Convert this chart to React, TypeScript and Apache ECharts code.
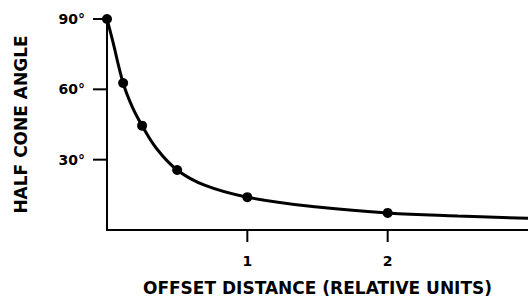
import React, { useEffect, useRef } from "react";
import * as echarts from "echarts";

const curveX = [0, 0.04, 0.115, 0.18, 0.25, 0.35, 0.5, 0.7, 1, 1.5, 2, 2.5, 3];
const curveY = [90, 80.8, 62.7, 52.5, 44.5, 35.0, 25.6, 19.0, 14, 9.8, 7.3, 6.0, 5.0];
const pointX = [0, 0.115, 0.25, 0.5, 1, 2];
const pointY = [90, 62.7, 44.5, 25.6, 14, 7.3];
const xTicks = [1, 2];
const yTicks = [30, 60, 90];
const xTitle = "OFFSET DISTANCE (RELATIVE UNITS)";
const yTitle = "HALF CONE ANGLE";

const FONT = "DejaVu Sans";
const X_TICK_LEN = 12;
const Y_TICK_LEN = 14;

export default function App() {
  const ref = useRef<HTMLDivElement>(null);
  useEffect(() => {
    if (!ref.current) return;
    const chart = echarts.init(ref.current, undefined, { renderer: "svg" });
    chart.setOption({
      animation: false,
      backgroundColor: "#ffffff",
      grid: { left: 107, right: 0, top: 19, bottom: 78, outerBoundsMode: "none", containLabel: false },
      xAxis: {
        type: "value",
        min: 0,
        max: 3,
        interval: 1,
        splitLine: { show: false },
        axisLine: { show: true, lineStyle: { color: "#000", width: 2 } },
        axisTick: { show: false },
        axisLabel: {
          show: true,
          margin: 24,
          color: "#000",
          fontFamily: FONT,
          fontWeight: "bold",
          fontSize: 14,
          formatter: (v: number) => (xTicks.indexOf(v) >= 0 ? String(v) : ""),
        },
        name: xTitle,
        nameLocation: "middle",
        nameGap: 49,
        nameTextStyle: { color: "#000", fontFamily: FONT, fontWeight: "bold", fontSize: 17 },
      },
      yAxis: {
        type: "value",
        min: 0,
        max: 90,
        interval: 30,
        splitLine: { show: false },
        axisLine: { show: true, lineStyle: { color: "#000", width: 2 } },
        axisTick: { show: false },
        axisLabel: {
          show: true,
          margin: 22,
          color: "#000",
          fontFamily: FONT,
          fontWeight: "bold",
          fontSize: 14,
          formatter: (v: number) => (yTicks.indexOf(v) >= 0 ? v + "°" : ""),
        },
        name: yTitle,
        nameLocation: "middle",
        nameGap: 78,
        nameTextStyle: { color: "#000", fontFamily: FONT, fontWeight: "bold", fontSize: 17 },
      },
      series: [
        {
          type: "custom",
          silent: true,
          clip: false,
          data: xTicks.map((v) => [v, 0]),
          encode: { x: 0, y: 1 },
          renderItem: (params: any, api: any) => {
            const p = api.coord([api.value(0), 0]);
            return {
              type: "line",
              shape: { x1: p[0], y1: p[1], x2: p[0], y2: p[1] + X_TICK_LEN },
              style: { stroke: "#000", lineWidth: 2 },
            };
          },
        },
        {
          type: "custom",
          silent: true,
          clip: false,
          data: yTicks.map((v) => [0, v]),
          encode: { x: 0, y: 1 },
          renderItem: (params: any, api: any) => {
            const p = api.coord([0, api.value(1)]);
            return {
              type: "line",
              shape: { x1: p[0] - Y_TICK_LEN, y1: p[1], x2: p[0], y2: p[1] },
              style: { stroke: "#000", lineWidth: 2 },
            };
          },
        },
        {
          type: "line",
          data: curveX.map((x, i) => [x, curveY[i]]),
          smooth: 0.4,
          showSymbol: false,
          clip: false,
          lineStyle: { color: "#000", width: 3 },
          silent: true,
        },
        {
          type: "scatter",
          data: pointX.map((x, i) => [x, pointY[i]]),
          symbolSize: 10,
          clip: false,
          itemStyle: { color: "#000", opacity: 1 },
        },
      ],
    });
    return () => chart.dispose();
  }, []);
  return (
    <div
      ref={ref}
      style={{ position: "fixed", left: 0, top: 0, width: 528, height: 308, background: "#fff" }}
    />
  );
}
